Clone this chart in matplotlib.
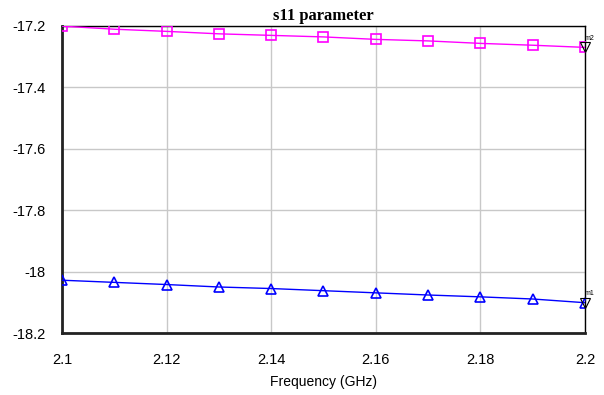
#!/usr/bin/env python3
import matplotlib
matplotlib.use("Agg")
import matplotlib.pyplot as plt

# frequency sweep (GHz)
freq = [2.10, 2.11, 2.12, 2.13, 2.14, 2.15, 2.16, 2.17, 2.18, 2.19, 2.20]

# s11 traces (dB)
s11_top = [-17.202, -17.212, -17.219, -17.227, -17.232, -17.237,
           -17.245, -17.250, -17.258, -17.264, -17.271]
s11_bot = [-18.027, -18.034, -18.041, -18.049, -18.054, -18.061,
           -18.068, -18.075, -18.081, -18.088, -18.100]

xticks = [2.1, 2.12, 2.14, 2.16, 2.18, 2.2]
yticks = [-17.2, -17.4, -17.6, -17.8, -18.0, -18.2]
ytick_labels = ["-17.2", "-17.4", "-17.6", "-17.8", "-18", "-18.2"]

plt.rcParams["font.family"] = ["Liberation Sans", "DejaVu Sans"]

fig = plt.figure(figsize=(6.04, 3.95), dpi=100)
ax = fig.add_axes([0.1026, 0.1557, 0.8659, 0.7797])

ax.plot(freq, s11_top, color="#ff00ff", lw=1, marker="s", ms=6.5,
        mfc="none", mec="#ff00ff", mew=1.2, zorder=3)
ax.plot(freq, s11_bot, color="#0000ff", lw=1, marker="^", ms=7,
        mfc="none", mec="#0000ff", mew=1.2, zorder=3)

# end-point markers m1 / m2
for yv, name in [(s11_bot[-1], "m1"), (s11_top[-1], "m2")]:
    ax.plot(freq[-1], yv, marker="v", ms=7, mfc="none", mec="black",
            mew=0.8, clip_on=False, zorder=4)
    ax.annotate(name, (freq[-1], yv), xytext=(0, 4), textcoords="offset points",
                fontsize=5, ha="left", va="bottom", color="black")

ax.set_xlim(2.1, 2.2)
ax.set_ylim(-18.2, -17.2)
ax.set_xticks(xticks)
ax.set_xticklabels([f"{t:g}" for t in xticks])
ax.set_yticks(yticks)
ax.set_yticklabels(ytick_labels)
ax.tick_params(length=0, labelsize=10.5, pad=14)
ax.tick_params(axis="y", pad=12)
ax.grid(True, color="#c8c8c8", lw=1)
ax.set_axisbelow(True)

for side in ["left", "bottom"]:
    ax.spines[side].set_linewidth(2)
    ax.spines[side].set_color("#222222")
for side in ["top", "right"]:
    ax.spines[side].set_linewidth(1)
    ax.spines[side].set_color("black")

ax.set_title("s11 parameter", fontsize=12, fontweight="bold",
             family=["Liberation Serif", "DejaVu Serif"], pad=4)
ax.set_xlabel("Frequency (GHz)", fontsize=10, labelpad=6)

fig.savefig("out.png", dpi=100)
